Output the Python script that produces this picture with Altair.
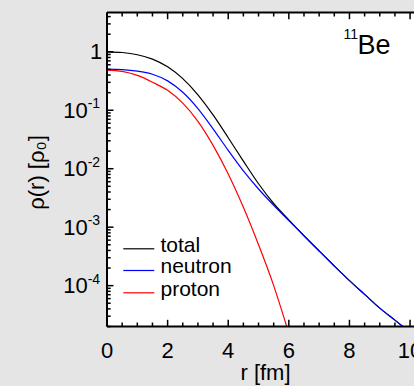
import altair as alt
import pandas as pd

# ---------------- data ----------------
series = ["total", "neutron", "proton"]
series_colors = ["#000000", "#0000ff", "#ff0000"]

r_total = [0, 0.5, 1.0, 1.5, 2.0, 2.5, 3.0, 3.5, 4.0, 4.5, 5.0, 5.5, 6.0, 6.5, 7.0, 7.5, 8.0, 8.5, 9.0, 9.5, 9.81]
rho_total = [1.0, 0.972, 0.891, 0.750, 0.553, 0.347, 0.184, 0.0832, 0.0339, 0.0135, 0.00553, 0.00254,
             1.33e-3, 7.13e-4, 3.92e-4, 2.17e-4, 1.22e-4, 7.08e-5, 4.12e-5, 2.57e-5, 1.91e-5]

r_neutron = [0, 0.5, 1.0, 1.5, 2.0, 2.5, 3.0, 3.5, 4.0, 4.5, 5.0, 5.5, 6.0, 6.5, 7.0, 7.5, 8.0, 8.5, 9.0, 9.5, 9.81]
rho_neutron = [0.505, 0.496, 0.468, 0.413, 0.318, 0.203, 0.107, 0.0482, 0.0206, 0.00918, 0.00450, 0.00237,
               1.30e-3, 7.13e-4, 3.92e-4, 2.17e-4, 1.22e-4, 7.08e-5, 4.12e-5, 2.57e-5, 1.91e-5]

r_proton = [0, 0.5, 1.0, 1.5, 2.0, 2.5, 3.0, 3.5, 4.0, 4.5, 5.0, 5.5, 5.93]
rho_proton = [0.485, 0.461, 0.394, 0.302, 0.219, 0.132, 0.0646, 0.0251, 0.00813, 0.00219, 5.01e-4, 1.0e-4, 2.0e-5]

x_domain = [0, 10.13]
y_domain = [2.0e-5, 4.7]

x_major = [0, 2, 4, 6, 8, 10]
x_labels = ["0", "2", "4", "6", "8", "10"]
x_minor = [0.5, 1, 1.5, 2.5, 3, 3.5, 4.5, 5, 5.5, 6.5, 7, 7.5, 8.5, 9, 9.5]

y_one = [1]
y_one_label = ["1"]
y_major = [1e-1, 1e-2, 1e-3, 1e-4]
y_base = ["10", "10", "10", "10"]
y_exp = ["-1", "-2", "-3", "-4"]
y_all_major = [1, 1e-1, 1e-2, 1e-3, 1e-4]
y_minor = [m * 10.0 ** k for k in range(-5, 1) for m in range(2, 10)
           if y_domain[0] <= m * 10.0 ** k <= y_domain[1]]

x_title = "r [fm]"
y_title = "ρ(r) [ρ₀]"
nucleus_mass = "11"
nucleus_sym = "Be"

# ---------------- layout constants ----------------
W, H = 307, 314
FONT = "Liberation Sans"
FS = 22
FS_LEG = 21
FS_SUP = 14

xs = alt.Scale(domain=x_domain, nice=False, zero=False)
ys = alt.Scale(type="log", domain=y_domain, nice=False)

one = pd.DataFrame({"a": [0]})

layers = []

# curves
for name, rr, vv, col in zip(series, [r_total, r_neutron, r_proton],
                             [rho_total, rho_neutron, rho_proton], series_colors):
    d = pd.DataFrame({"r": rr, "rho": vv, "series": name})
    layers.append(
        alt.Chart(d).mark_line(clip=True, strokeWidth=1.2, interpolate="monotone", color=col)
        .encode(x=alt.X("r:Q", scale=xs, axis=None), y=alt.Y("rho:Q", scale=ys, axis=None))
    )

# frame (left, top, bottom)
layers.append(alt.Chart(one).mark_rule(strokeWidth=2, color="black")
              .encode(x=alt.value(0), y=alt.value(0), y2=alt.value(H)))
layers.append(alt.Chart(one).mark_rule(strokeWidth=2, color="black")
              .encode(x=alt.value(0), x2=alt.value(W + 5), y=alt.value(0)))
layers.append(alt.Chart(one).mark_rule(strokeWidth=2, color="black")
              .encode(x=alt.value(0), x2=alt.value(W + 5), y=alt.value(H)))

# ticks (inward)
dxM = pd.DataFrame({"v": x_major, "lab": x_labels})
dxm = pd.DataFrame({"v": x_minor})
dyM = pd.DataFrame({"v": y_all_major})
dym = pd.DataFrame({"v": y_minor})
for dfx, ln in [(dxM, 6.7), (dxm, 4)]:
    layers.append(alt.Chart(dfx).mark_rule(strokeWidth=1.5, color="black")
                  .encode(x=alt.X("v:Q", scale=xs, axis=None), y=alt.value(H), y2=alt.value(H - ln)))
    layers.append(alt.Chart(dfx).mark_rule(strokeWidth=1.5, color="black")
                  .encode(x=alt.X("v:Q", scale=xs, axis=None), y=alt.value(0), y2=alt.value(ln)))
for dfy, ln in [(dyM, 6.5), (dym, 3.7)]:
    layers.append(alt.Chart(dfy).mark_rule(strokeWidth=1.5, color="black")
                  .encode(y=alt.Y("v:Q", scale=ys, axis=None), x=alt.value(0), x2=alt.value(ln)))

# x tick labels
layers.append(alt.Chart(dxM).mark_text(font=FONT, fontSize=FS, align="center", baseline="alphabetic", color="black")
              .encode(x=alt.X("v:Q", scale=xs, axis=None), y=alt.value(H + 31), text="lab:N"))

# y tick labels
d1 = pd.DataFrame({"v": y_one, "lab": y_one_label})
layers.append(alt.Chart(d1).mark_text(font=FONT, fontSize=FS, align="right", baseline="alphabetic", dy=7.5, color="black")
              .encode(y=alt.Y("v:Q", scale=ys, axis=None), x=alt.value(-4.7), text="lab:N"))
d10 = pd.DataFrame({"v": y_major, "base": y_base, "exp": y_exp})
layers.append(alt.Chart(d10).mark_text(font=FONT, fontSize=FS, align="right", baseline="alphabetic", dy=7.5, color="black")
              .encode(y=alt.Y("v:Q", scale=ys, axis=None), x=alt.value(-19.3), text="base:N"))
layers.append(alt.Chart(d10).mark_text(font=FONT, fontSize=FS_SUP, align="left", baseline="alphabetic", dy=-2, color="black")
              .encode(y=alt.Y("v:Q", scale=ys, axis=None), x=alt.value(-19.3), text="exp:N"))

# axis titles
layers.append(alt.Chart(pd.DataFrame({"t": [x_title]})).mark_text(
    font=FONT, fontSize=FS, align="center", baseline="alphabetic", color="black")
    .encode(x=alt.value(158.5), y=alt.value(367), text="t:N"))
layers.append(alt.Chart(pd.DataFrame({"t": [y_title]})).mark_text(
    font=FONT, fontSize=FS, align="center", baseline="middle", angle=270, color="black")
    .encode(x=alt.value(-70), y=alt.value(160), text="t:N"))

# legend
leg_y = [236.3, 258, 280.3]
for name, col, yy in zip(series, series_colors, leg_y):
    layers.append(alt.Chart(one).mark_rule(strokeWidth=1.2, color=col)
                  .encode(x=alt.value(16.3), x2=alt.value(47.3), y=alt.value(yy)))
    layers.append(alt.Chart(pd.DataFrame({"t": [name]})).mark_text(
        font=FONT, fontSize=FS_LEG, align="left", baseline="alphabetic", color="black")
        .encode(x=alt.value(53.5), y=alt.value(yy + 2.7), text="t:N"))

# nucleus label
layers.append(alt.Chart(pd.DataFrame({"t": [nucleus_mass]})).mark_text(
    font=FONT, fontSize=FS_SUP, align="right", baseline="alphabetic", color="black")
    .encode(x=alt.value(251), y=alt.value(26.3), text="t:N"))
layers.append(alt.Chart(pd.DataFrame({"t": [nucleus_sym]})).mark_text(
    font=FONT, fontSize=27, align="left", baseline="alphabetic", color="black")
    .encode(x=alt.value(250.5), y=alt.value(41.3), text="t:N"))

chart = alt.layer(*layers).properties(
    width=W, height=H,
    padding={"left": 107, "top": 12.5, "right": 0, "bottom": 59.5},
    autosize=alt.AutoSizeParams(type="none"),
    background="#e5e5e5",
).configure_view(stroke=None, fill="white")

chart.save("out.html", embed_options={"renderer": "svg", "actions": False})
